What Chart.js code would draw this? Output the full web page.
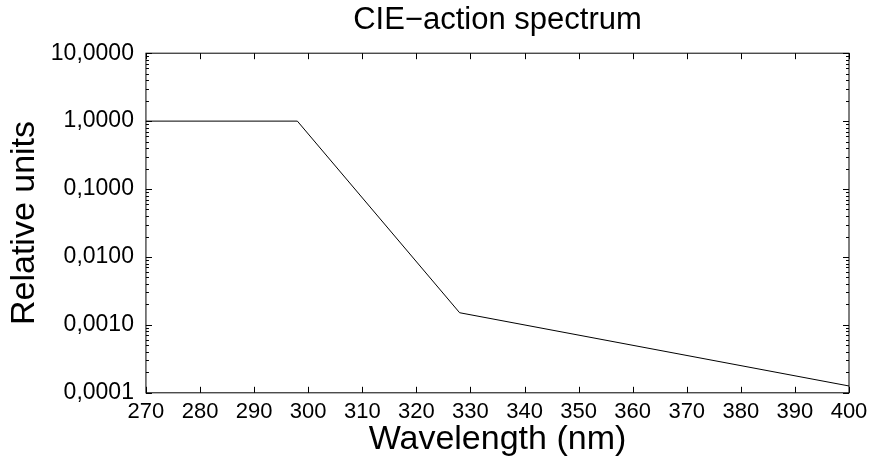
<!DOCTYPE html>
<html>
<head>
<meta charset="utf-8">
<script src="https://cdn.jsdelivr.net/npm/chart.js@4/dist/chart.umd.min.js"></script>
<style>body{margin:0;background:#fff}</style>
</head>
<body>
<canvas id="c" width="869" height="460"></canvas>
<script>
// wavelength breakpoints (nm) and relative values
var wavelengths = [270, 298, 328, 400];
var relative = [1, 1, 0.00151, 0.000126];
var yTicks = [0.0001, 0.001, 0.01, 0.1, 1, 10];

// draws the frame and the small inward tick marks on all four sides
var frameTicks = {
    id: 'frameTicks',
    afterDraw: function (chart) {
        var c = chart.ctx, a = chart.chartArea;
        var xs = chart.scales.x, ys = chart.scales.y;
        c.save();
        c.strokeStyle = '#000';
        c.lineWidth = 1;
        c.strokeRect(a.left, a.top, a.right - a.left, a.bottom - a.top);
        c.beginPath();
        for (var v = 270; v <= 400; v += 10) {
            var px = Math.round(xs.getPixelForValue(v)) + 0.5;
            c.moveTo(px, a.bottom); c.lineTo(px, a.bottom - 6);
            c.moveTo(px, a.top); c.lineTo(px, a.top + 6);
        }
        for (var e = -4; e <= 0; e++) {
            for (var m = 1; m <= 10; m++) {
                var py = Math.round(ys.getPixelForValue(m * Math.pow(10, e))) + 0.5;
                var len = (m == 1 || m == 10) ? 6 : 3;
                c.moveTo(a.left, py); c.lineTo(a.left + len, py);
                c.moveTo(a.right, py); c.lineTo(a.right - len, py);
            }
        }
        c.stroke();
        c.restore();
    }
};

new Chart(document.getElementById('c').getContext('2d'), {
    type: 'line',
    data: {
        datasets: [{
            data: wavelengths.map(function (w, i) { return {x: w, y: relative[i]}; }),
            borderColor: '#000',
            borderWidth: 1,
            pointRadius: 0,
            tension: 0
        }]
    },
    options: {
        responsive: false,
        animation: false,
        layout: {padding: {left: 4, right: 20, top: 2, bottom: 0}},
        plugins: {
            legend: {display: false},
            tooltip: {enabled: false},
            title: {
                display: true,
                fullSize: false,
                text: 'CIE\u2212action spectrum',
                color: '#000',
                font: {family: 'Liberation Sans', size: 31, weight: 'normal'},
                padding: {top: 0, bottom: 14}
            }
        },
        scales: {
            x: {
                type: 'linear',
                min: 270, max: 400,
                grid: {display: false},
                border: {display: false},
                ticks: {stepSize: 10, color: '#000', padding: -2, maxRotation: 0,
                    font: {family: 'Liberation Sans', size: 22}},
                title: {display: true, text: 'Wavelength (nm)', color: '#000',
                    padding: {top: -4, bottom: 0},
                    font: {family: 'Liberation Sans', size: 34}}
            },
            y: {
                type: 'logarithmic',
                min: 0.0001, max: 10,
                grid: {display: false},
                border: {display: false},
                afterBuildTicks: function (s) {
                    s.ticks = yTicks.map(function (v) { return {value: v}; });
                },
                ticks: {color: '#000', padding: 4,
                    font: {family: 'Liberation Sans', size: 23},
                    callback: function (v) { return Number(v).toFixed(4).replace('.', ','); }},
                title: {display: true, text: 'Relative units', color: '#000',
                    padding: {top: 0, bottom: 2},
                    font: {family: 'Liberation Sans', size: 34}}
            }
        }
    },
    plugins: [frameTicks]
});
</script>
</body>
</html>
